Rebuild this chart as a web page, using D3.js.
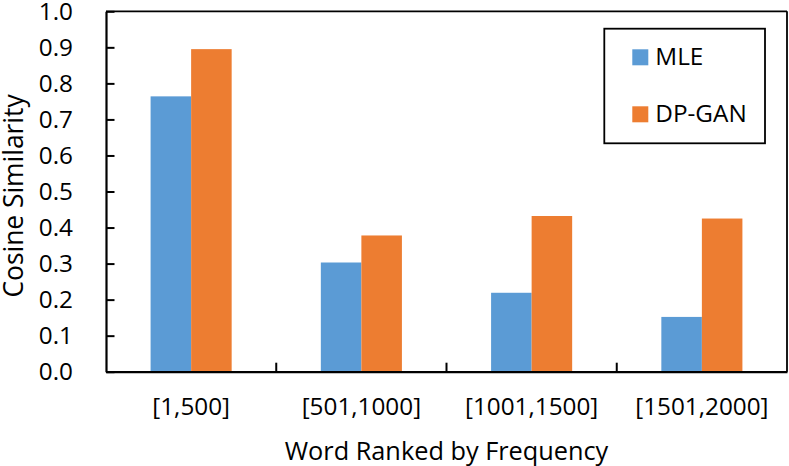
<!DOCTYPE html>
<html>
<head>
<meta charset="utf-8">
<script src="https://cdn.jsdelivr.net/npm/d3@7"></script>
<style>
  html, body { margin: 0; padding: 0; background: #fff; }
  svg { display: block; font-family: "Open Sans", "Noto Sans", sans-serif; }
</style>
</head>
<body>
<svg id="chart" width="789" height="466"></svg>
<script>
const categories = ["[1,500]", "[501,1000]", "[1001,1500]", "[1501,2000]"];
const seriesNames = ["MLE", "DP-GAN"];
const mleValues = [0.764, 0.303, 0.219, 0.152];
const dpganValues = [0.895, 0.378, 0.432, 0.425];
const yTicks = [0, 0.1, 0.2, 0.3, 0.4, 0.5, 0.6, 0.7, 0.8, 0.9, 1.0];
const colors = ["#5B9BD5", "#ED7D31"];

const svg = d3.select("#chart");
const pLeft = 106, pRight = 787, pTop = 11.3, pBottom = 371.7;

const x0 = d3.scaleBand().domain(categories).range([pLeft, pRight]).paddingInner(0).paddingOuter(0);
const x1 = d3.scaleBand().domain(seriesNames).range([0, x0.bandwidth()]).paddingInner(0).paddingOuter(1.1);
const y = d3.scaleLinear().domain([0, 1]).range([pBottom, pTop]);
const color = d3.scaleOrdinal().domain(seriesNames).range(colors);

const rows = categories.map((c, i) => ({ cat: c, values: [
  { name: "MLE", value: mleValues[i] },
  { name: "DP-GAN", value: dpganValues[i] }
]}));

// bars
const g = svg.append("g");
g.selectAll("g.grp").data(rows).join("g")
  .attr("class", "grp")
  .attr("transform", d => `translate(${x0(d.cat)},0)`)
  .selectAll("rect").data(d => d.values).join("rect")
  .attr("x", d => x1(d.name))
  .attr("width", x1.bandwidth())
  .attr("y", d => y(d.value))
  .attr("height", d => y(0) - y(d.value))
  .attr("fill", d => color(d.name));

// plot border (top and right)
svg.append("line").attr("x1", pLeft).attr("x2", pRight).attr("y1", pTop).attr("y2", pTop)
  .attr("stroke", "#000").attr("stroke-width", 1.8);
svg.append("line").attr("x1", pRight).attr("x2", pRight).attr("y1", pTop).attr("y2", pBottom)
  .attr("stroke", "#000").attr("stroke-width", 1.8);

// y axis
const yAxis = d3.axisLeft(y).tickValues(yTicks).tickFormat(d3.format(".1f")).tickSizeInner(-8.5).tickSizeOuter(0).tickPadding(33);
const ya = svg.append("g").attr("transform", `translate(${pLeft},0)`).call(yAxis);
ya.select(".domain").attr("stroke", "#000").attr("stroke-width", 2.2);
ya.selectAll(".tick line").attr("stroke", "#000").attr("stroke-width", 2);
ya.selectAll(".tick text").attr("font-size", 24.3).attr("fill", "#000").attr("font-family", "Open Sans");

// x axis
const xAxis = d3.axisBottom(x0).tickSize(0).tickPadding(26);
const xa = svg.append("g").attr("transform", `translate(0,${pBottom})`).call(xAxis);
xa.select(".domain").attr("stroke", "#000").attr("stroke-width", 2.2);
xa.selectAll(".tick text").attr("font-size", 24.3).attr("fill", "#000").attr("font-family", "Open Sans");
// category boundary ticks (inside)
const bounds = categories.slice(1).map(c => x0(c));
svg.append("g").selectAll("line").data(bounds).join("line")
  .attr("x1", d => d).attr("x2", d => d)
  .attr("y1", pBottom).attr("y2", pBottom - 9)
  .attr("stroke", "#000").attr("stroke-width", 2);

// axis titles
svg.append("text").attr("x", (pLeft + pRight) / 2).attr("y", 460)
  .attr("text-anchor", "middle").attr("font-size", 25.3).attr("fill", "#000")
  .text("Word Ranked by Frequency");
svg.append("text").attr("transform", `translate(23,196) rotate(-90)`)
  .attr("text-anchor", "middle").attr("font-size", 26.4).attr("fill", "#000")
  .text("Cosine Similarity");

// legend
const lg = svg.append("g");
lg.append("rect").attr("x", 604.3).attr("y", 28.7).attr("width", 160.7).attr("height", 114.6)
  .attr("fill", "#fff").attr("stroke", "#000").attr("stroke-width", 1.8);
const items = lg.selectAll("g.item").data(seriesNames).join("g")
  .attr("class", "item")
  .attr("transform", (d, i) => `translate(632.3,${49.3 + i * 57})`);
items.append("rect").attr("width", 16).attr("height", 16).attr("fill", d => color(d));
items.append("text").attr("x", 23).attr("y", 16).attr("font-size", 24.3).attr("fill", "#000").text(d => d);
</script>
</body>
</html>
